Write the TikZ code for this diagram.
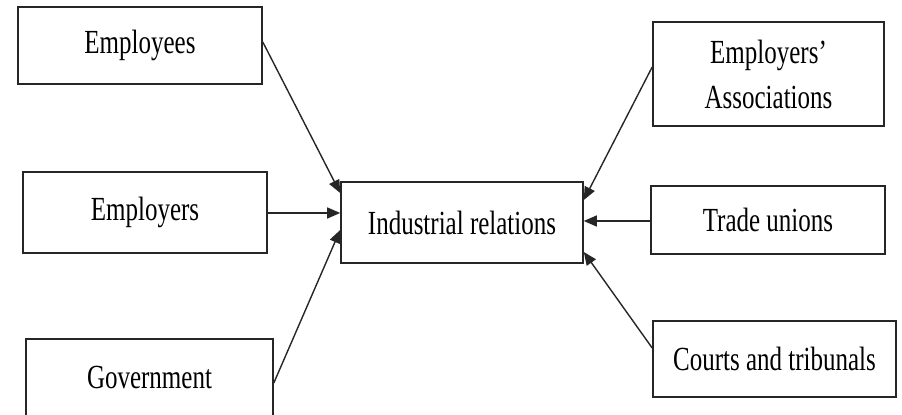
\documentclass[tikz,border=0pt]{standalone}
\usepackage{fontspec}
\setmainfont{Liberation Serif}
\usepackage{graphicx}
\usetikzlibrary{arrows.meta, calc}
\newcommand{\tall}[1]{\scalebox{1}[1.35]{#1}}

\begin{document}
\begin{tikzpicture}[
    x=0.5pt, y=-0.5pt,
    box/.style={rectangle, draw=black!85, line width=0.8pt, fill=white, inner sep=0pt, align=center, font=\fontsize{12.5}{22.5}\selectfont},
    feed/.style={-{Triangle[length=6.5pt, width=5.5pt]}, line width=0.7pt, draw=black!85}
]
    \useasboundingbox (0,0) rectangle (902,415);
    \clip (0,0) rectangle (902,415);

    % Centre
    \node[box, minimum width=121pt, minimum height=40.5pt] (ir) at (462,222.5) {\tall{Industrial relations}};

    % Left side
    \node[box, minimum width=122pt, minimum height=38.5pt] (emp) at (140,45.5) {\tall{Employees}};
    \node[box, minimum width=122pt, minimum height=40.5pt] (empr) at (145,212.5) {\tall{Employers}};
    \node[box, minimum width=123.5pt, minimum height=38.5pt] (gov) at (149.5,377.5) {\tall{Government}};

    % Right side
    \node[box, minimum width=115.5pt, minimum height=52pt] (assoc) at (768.5,74) {\tall{Employers’}\\\tall{Associations}};
    \node[box, minimum width=117pt, minimum height=34pt] (tu) at (768,220) {\tall{Trade unions}};
    \node[box, minimum width=121.5pt, minimum height=38pt] (court) at (774.5,359) {\tall{Courts and tribunals}};

    % Arrows into the centre
    \draw[feed] ($(emp.east)+(0,-3.5)$) -- ($(ir.west)+(0,-29.5)$);
    \draw[feed] ($(empr.east)+(0,0.5)$) -- ($(ir.west)+(0,-9.5)$);
    \draw[feed] ($(gov.east)+(0,5.5)$) -- ($(ir.west)+(0,7.5)$);
    \draw[feed] ($(assoc.west)+(0,-7)$) -- ($(ir.east)+(0,-22.5)$);
    \draw[feed] ($(tu.west)+(0,1)$) -- ($(ir.east)+(0,-1.5)$);
    \draw[feed] ($(court.west)+(0,-11)$) -- ($(ir.east)+(0,29.5)$);
\end{tikzpicture}
\end{document}
